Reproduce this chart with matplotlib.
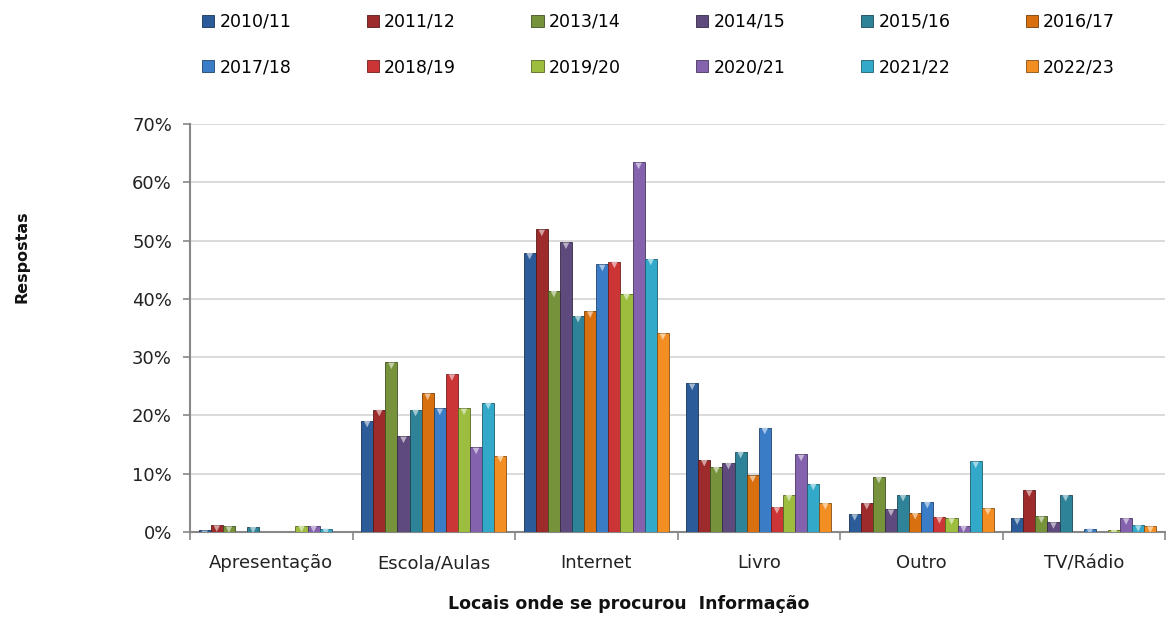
import numpy as np
import matplotlib.pyplot as plt
from matplotlib.colors import to_rgb

categories = ["Apresentação", "Escola/Aulas", "Internet", "Livro", "Outro", "TV/Rádio"]
years = ["2010/11", "2011/12", "2013/14", "2014/15", "2015/16", "2016/17",
         "2017/18", "2018/19", "2019/20", "2020/21", "2021/22", "2022/23"]

# percent of answers, one list per school year (order follows `categories`)
v_2010_11 = [0.3, 19.1, 47.9, 25.5, 3.1, 2.4]
v_2011_12 = [1.2, 21.0, 51.9, 12.4, 5.0, 7.2]
v_2013_14 = [1.0, 29.1, 41.4, 11.2, 9.5, 2.7]
v_2014_15 = [0.0, 16.4, 49.7, 11.9, 3.9, 1.7]
v_2015_16 = [0.9, 21.0, 37.1, 13.8, 6.4, 6.4]
v_2016_17 = [0.0, 23.8, 37.9, 9.7, 3.3, 0.0]
v_2017_18 = [0.0, 21.2, 45.9, 17.9, 5.2, 0.6]
v_2018_19 = [0.0, 27.1, 46.4, 4.3, 2.6, 0.0]
v_2019_20 = [1.1, 21.2, 40.9, 6.4, 2.4, 0.4]
v_2020_21 = [1.1, 14.5, 63.4, 13.3, 1.1, 2.4]
v_2021_22 = [0.6, 22.2, 46.9, 8.3, 12.1, 1.2]
v_2022_23 = [0.0, 13.1, 34.1, 5.0, 4.1, 1.0]
series = [v_2010_11, v_2011_12, v_2013_14, v_2014_15, v_2015_16, v_2016_17,
          v_2017_18, v_2018_19, v_2019_20, v_2020_21, v_2021_22, v_2022_23]

colours = ["#2B5C99", "#9E2B2B", "#76923A", "#5F4A7E", "#2F8399", "#D9700F",
           "#3A7CC6", "#CC3535", "#9CBD3E", "#8462AE", "#33A9C9", "#F28E22"]


def lighter(c, f=0.55):
    r, g, b = to_rgb(c)
    return (r + (1 - r) * f, g + (1 - g) * f, b + (1 - b) * f)


def darker(c, f=0.55):
    r, g, b = to_rgb(c)
    return (r * f, g * f, b * f)


plt.rcParams["font.family"] = ["DejaVu Sans"]

fig = plt.figure(figsize=(11.66, 6.28), dpi=100)
ax = fig.add_axes([190 / 1166, 1 - 532 / 628, (1165 - 190) / 1166, (532 - 124) / 628])

x = np.arange(len(categories))
n = len(series)
w = 0.0745
handles = []
for i, (vals, col, lab) in enumerate(zip(series, colours, years)):
    pos = x + (i - (n - 1) / 2) * w
    vals = np.array(vals) / 100
    shown = vals > 0
    bars = ax.bar(pos[shown], vals[shown], width=w, color=col, edgecolor=darker(col),
                  linewidth=0.6, label=lab, zorder=3)
    handles.append(bars)
    ax.scatter(pos[shown], vals[shown] - 0.006, marker="v", s=22,
               color=lighter(col), edgecolor="none", zorder=4)

ax.set_xlim(-0.5, len(categories) - 0.5)
ax.set_ylim(0, 0.7)
yt = np.arange(0, 0.71, 0.1)
ax.set_yticks(yt)
ax.set_yticklabels([f"{int(round(t * 100))}%" for t in yt])
ax.set_xticks(x)
ax.set_xticklabels(categories)
ax.set_xticks(np.arange(-0.5, len(categories)), minor=True)
ax.tick_params(axis="x", which="major", length=0, pad=16, labelsize=13, labelcolor="#222222")
ax.tick_params(axis="x", which="minor", length=6, color="#888888", width=1.2)
ax.tick_params(axis="y", length=5, color="#888888", width=1.2, labelsize=13,
               labelcolor="#222222", pad=8)

ax.grid(axis="y", color="#D4D4D4", linewidth=1.2, zorder=0)
for s in ["top", "right"]:
    ax.spines[s].set_visible(False)
for s in ["left", "bottom"]:
    ax.spines[s].set_color("#888888")
    ax.spines[s].set_linewidth(1.5)

fig.text(22 / 1166, 1 - 257 / 628, "Respostas", rotation=90, fontsize=11.5,
         fontweight="bold", ha="center", va="center", color="#111111")
fig.text(629 / 1166, 1 - 604 / 628, "Locais onde se procurou  Informação", fontsize=12.5,
         fontweight="bold", ha="center", va="center", color="#111111")

# legend reads row by row: first six years on top, next six below
order = [j for pair in zip(range(6), range(6, 12)) for j in pair]
fig.legend([handles[j] for j in order], [years[j] for j in order],
           loc="upper left", bbox_to_anchor=(195 / 1166, 1 - 12 / 628, (1122 - 195) / 1166, 0.01),
           mode="expand", ncol=6, frameon=False, fontsize=12.5,
           handlelength=0.7, handleheight=0.7, handletextpad=0.3,
           labelspacing=1.6, borderaxespad=0)

fig.savefig("out.png", dpi=100)
